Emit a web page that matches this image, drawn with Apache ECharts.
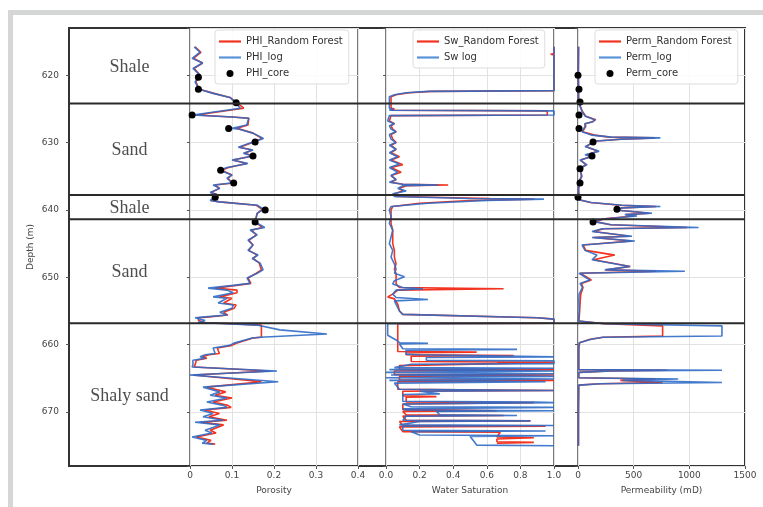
<!DOCTYPE html>
<html>
<head>
  <meta charset="utf-8">
  <script src="https://cdn.jsdelivr.net/npm/echarts@6/dist/echarts.min.js"></script>
</head>
<body style="margin:0;background:#fff">
  <div id="container" style="width:763px;height:507px"></div>
  <script>
    // depth (m) of lithology tops / label centres
    const boundaries = [624.2, 637.8, 641.4, 656.8];
    const lithoNames = ['Shale', 'Sand', 'Shale', 'Sand', 'Shaly sand'];
    const lithoDepths = [618.8, 631.1, 639.7, 649.2, 667.6];

    // [depth, porosity]
    const phiLog = [[615.8,.01],[616.6,.024],[617.5,.005],[618.2,.03],[619.0,.007],[620.0,.024],[621.0,.012],[622.1,.022],[622.7,.055],[623.3,.095],[624.0,.107],[624.9,.12],[625.9,.007],[626.2,.10],[626.4,.14],[627.4,.135],[627.9,.10],[628.0,.115],[628.6,.15],[629.4,.175],[629.9,.15],[630.7,.115],[631.1,.15],[631.6,.127],[632.0,.15],[632.6,.10],[633.1,.138],[633.7,.088],[634.1,.071],[634.8,.10],[635.3,.088],[636.0,.10],[636.3,.055],[636.8,.071],[637.4,.048],[637.7,.064],[638.6,.048],[638.8,.071],[639.3,.16],[639.9,.175],[640.5,.16],[641.8,.155],[642.6,.178],[643.0,.143],[643.7,.16],[644.5,.138],[645.2,.15],[646.0,.138],[646.7,.162],[647.2,.148],[647.9,.167],[648.9,.174],[649.4,.16],[650.1,.136],[650.9,.143],[651.2,.103],[651.6,.043],[651.9,.088],[652.3,.103],[652.9,.055],[653.1,.088],[653.8,.067],[654.1,.103],[654.6,.10],[655.2,.071],[655.6,.088],[655.9,.03],[656.0,.012],[656.4,.036],[656.7,.019],[657.1,.162],[657.8,.214],[658.4,.326],[658.9,.167],[659.0,.148],[659.8,.103],[660.1,.095],[660.5,.055],[661.3,.06],[661.5,.036],[661.8,.024],[662.0,.036],[662.3,.007],[663.0,.007],[663.3,.005],[663.9,.207],[664.5,.0],[665.5,.21],[666.3,.031],[667.0,.071],[667.5,.048],[667.9,.088],[668.5,.04],[669.0,.079],[669.3,.088],[669.7,.024],[670.2,.055],[670.7,.031],[671.2,.079],[671.5,.012],[671.9,.071],[672.7,.036],[673.1,.052],[673.7,.005],[674.2,.04],[674.6,.029],[674.75,.055]];
    const phiRF = [[615.8,.012],[616.6,.026],[617.5,.008],[618.2,.03],[619.0,.01],[620.0,.024],[621.0,.014],[622.1,.022],[622.7,.057],[623.3,.095],[624.0,.11],[624.9,.128],[625.9,.015],[626.2,.10],[626.4,.14],[627.4,.138],[627.9,.11],[628.0,.118],[628.6,.15],[629.4,.172],[629.9,.152],[630.7,.118],[631.1,.148],[631.6,.13],[632.0,.15],[632.6,.102],[633.1,.135],[633.7,.092],[634.1,.075],[634.8,.10],[635.3,.09],[636.0,.102],[636.3,.06],[636.8,.07],[637.4,.05],[637.7,.064],[638.6,.05],[638.8,.07],[639.3,.158],[639.9,.172],[640.5,.16],[641.8,.155],[642.6,.172],[643.0,.146],[643.7,.158],[644.5,.14],[645.2,.15],[646.0,.14],[646.7,.16],[647.2,.15],[647.9,.165],[648.9,.17],[649.4,.158],[650.1,.138],[650.9,.145],[651.2,.11],[651.6,.06],[651.9,.112],[652.3,.112],[652.9,.07],[653.1,.1],[653.8,.08],[654.1,.11],[654.6,.105],[655.2,.08],[655.6,.09],[655.9,.04],[656.0,.02],[656.4,.02],[656.7,.035],[657.1,.17],[658.9,.17],[659.0,.15],[659.8,.11],[660.1,.1],[660.5,.065],[661.3,.07],[661.5,.045],[661.8,.03],[662.0,.04],[662.3,.015],[663.0,.012],[663.3,.01],[663.9,.19],[664.5,.008],[665.5,.17],[666.3,.04],[667.0,.085],[667.5,.06],[667.9,.1],[668.5,.055],[669.0,.09],[669.3,.098],[669.7,.035],[670.2,.07],[670.7,.045],[671.2,.088],[671.5,.025],[671.9,.08],[672.7,.048],[673.1,.062],[673.7,.015],[674.2,.05],[674.6,.04],[674.75,.06]];
    const phiCore = [[620.3,.02],[622.1,.02],[624.1,.11],[625.9,.005],[627.9,.092],[629.9,.155],[632.0,.15],[634.1,.073],[636.0,.104],[638.1,.06],[640.0,.179],[641.8,.155]];

    // [depth, water saturation]
    const swLog = [[615.8,1.0],[622.3,1.0],[622.4,0.25],[622.6,0.12],[622.9,0.05],[623.2,0.02],[624.9,0.02],[625.0,0.04],[625.2,0.02],[625.3,1.0],[625.9,1.0],[626.0,0.02],[626.8,0.01],[627.2,0.05],[627.5,0.02],[628.0,0.03],[628.4,0.06],[628.8,0.02],[629.5,0.03],[630.0,0.06],[630.4,0.02],[631.0,0.06],[631.5,0.02],[632.1,0.07],[632.6,0.02],[633.2,0.08],[633.7,0.02],[634.4,0.07],[634.9,0.03],[635.5,0.06],[635.9,0.02],[636.2,0.1],[636.3,0.31],[636.4,0.1],[636.8,0.07],[637.2,0.12],[637.6,0.04],[638.0,0.05],[638.3,0.5],[638.4,0.94],[638.6,0.6],[639.0,0.25],[639.5,0.03],[640.0,0.02],[641.0,0.03],[642.0,0.02],[643.0,0.04],[644.0,0.03],[645.0,0.02],[646.0,0.04],[647.0,0.03],[648.0,0.05],[648.8,0.06],[649.4,0.05],[649.9,0.11],[650.5,0.05],[651.0,0.04],[651.5,0.1],[651.7,0.22],[651.9,0.06],[652.5,0.04],[653.0,0.06],[653.3,0.25],[653.5,0.05],[654.0,0.06],[655.0,0.08],[655.5,0.1],[656.0,0.9],[656.2,1.0],[656.8,1.0],
      [656.9,0.01],[658.6,0.01],[659.3,0.06],[659.7,0.08],[659.8,0.25],[659.9,0.08],[660.6,0.1],[660.7,0.78],[660.8,0.12],[661.4,0.12],[661.5,0.2],[661.8,1.0],[661.9,0.24],[662.3,0.24],[662.4,1.0],[662.8,1.0],[662.9,0.15],[663.4,0.05],[663.5,1.0],[663.7,0.02],[663.9,1.0],[664.1,0.0],[664.3,1.0],[664.5,0.03],[664.7,1.0],[664.9,0.0],[665.1,1.0],[665.3,0.02],[665.5,0.95],[665.7,0.05],[665.9,0.05],[666.6,0.08],[666.8,1.0],[666.9,0.2],[667.3,0.32],[667.4,0.1],[668.4,0.1],[668.5,0.88],[668.6,1.0],[668.8,0.1],[669.2,0.15],[669.3,1.0],[669.5,0.1],[669.7,0.12],[669.8,1.0],[669.9,0.3],[670.4,0.32],[670.5,0.78],[670.6,0.12],[671.2,0.1],[671.3,0.86],[671.4,0.2],[671.9,0.08],[672.0,1.0],[672.1,0.1],[672.7,0.1],[672.8,0.95],[672.9,0.15],[673.4,0.2],[673.5,1.0],[673.6,0.5],[674.9,0.54],[675.0,1.0]];
    const swRF = [[615.8,1.0],[616.8,1.0],[616.9,0.98],[617.0,1.0],[622.3,1.0],[622.4,0.27],[622.6,0.14],[622.9,0.06],[623.2,0.03],[624.9,0.03],[625.0,0.05],[625.2,0.03],[625.3,0.96],[625.9,0.96],[626.0,0.03],[626.8,0.02],[627.2,0.05],[627.5,0.03],[628.0,0.04],[628.4,0.06],[628.8,0.03],[629.5,0.04],[630.0,0.06],[630.4,0.03],[631.0,0.06],[631.5,0.03],[632.1,0.08],[632.6,0.03],[633.3,0.1],[633.7,0.03],[634.4,0.09],[634.9,0.03],[635.5,0.06],[635.9,0.03],[636.2,0.1],[636.3,0.37],[636.4,0.12],[636.8,0.08],[637.2,0.1],[637.6,0.05],[638.0,0.06],[638.3,0.62],[638.4,0.88],[638.6,0.5],[639.0,0.2],[639.5,0.04],[640.0,0.03],[641.0,0.03],[642.0,0.03],[643.0,0.04],[644.0,0.04],[645.0,0.04],[646.0,0.05],[647.0,0.05],[648.0,0.06],[648.8,0.05],[649.4,0.06],[650.0,0.06],[650.5,0.06],[651.0,0.06],[651.5,0.08],[651.7,0.7],[651.9,0.07],[652.5,0.04],[652.9,0.01],[653.2,0.05],[653.4,0.06],[654.0,0.07],[655.0,0.08],[655.5,0.1],[656.0,0.9],[656.2,1.0],[656.8,1.0],
      [656.9,0.07],[661.0,0.07],[661.1,0.54],[661.2,0.12],[661.5,0.12],[661.6,0.76],[661.7,0.15],[662.5,0.15],[662.6,1.0],[662.8,0.66],[663.0,0.66],[663.1,0.08],[663.6,0.08],[663.7,1.0],[663.9,0.05],[664.4,0.05],[664.5,1.0],[664.7,0.08],[665.2,0.08],[665.3,1.0],[665.5,0.07],[666.6,0.07],[666.8,1.0],[666.9,0.1],[667.6,0.1],[667.7,0.3],[667.8,0.12],[668.5,0.12],[668.6,0.88],[668.8,0.1],[669.6,0.1],[669.8,0.66],[669.9,0.1],[670.4,0.12],[670.5,0.7],[670.6,0.1],[671.2,0.12],[671.3,0.86],[671.4,0.08],[672.0,0.1],[672.1,0.95],[672.2,0.08],[672.9,0.1],[673.0,0.68],[673.7,0.66],[673.8,0.88],[674.0,0.66],[674.4,0.66],[674.5,0.88],[674.6,0.66]];

    // [depth, permeability mD]
    const permLog = [[615.8,5],[620,3],[622,5],[624.0,5],[625.4,36],[626.1,66],[626.6,150],[626.9,135],[627.2,60],[627.6,63],[628.4,36],[628.9,126],[629.2,300],[629.3,740],[629.5,395],[629.8,130],[630.1,126],[630.6,63],[631.3,190],[631.8,63],[632.1,120],[632.6,18],[633.3,81],[633.8,15],[635.0,36],[635.8,9],[637,5],[638.5,9],[638.9,120],[639.3,400],[639.5,740],[639.7,395],[640.0,335],[640.5,665],[640.7,420],[640.9,530],[641.3,250],[641.7,126],[642.2,300],[642.6,1083],[642.8,215],[643.2,126],[643.9,485],[644.1,126],[644.6,510],[645.2,36],[646.0,63],[646.7,170],[647.4,126],[648.4,465],[648.9,240],[649.1,960],[649.4,9],[650.4,108],[650.9,18],[651.5,40],[652.5,10],[653.5,8],[655.0,10],[656.5,5],[656.9,240],[657.2,1293],[658.7,1293],[658.9,220],[659.2,120],[659.7,10],[660.5,5],[663.7,5],[663.8,1293],[663.9,300],[664.1,5],[664.9,5],[665.1,900],[665.3,400],[665.6,1293],[665.8,200],[666.0,5],[670,3],[675,3]];
    const permRF = [[615.8,5],[620,3],[622,5],[624.0,5],[625.4,40],[626.1,70],[626.6,160],[626.9,130],[627.2,65],[627.6,70],[628.4,40],[628.9,150],[629.2,280],[629.3,690],[629.5,380],[629.8,140],[630.1,120],[630.6,70],[631.3,180],[631.8,80],[632.1,110],[632.6,25],[633.3,70],[633.8,20],[635.0,30],[635.8,12],[637,5],[638.5,10],[638.9,110],[639.3,380],[639.5,700],[639.7,390],[640.0,340],[640.5,640],[640.7,430],[640.9,500],[641.3,240],[641.7,150],[642.2,290],[642.6,980],[642.8,230],[643.2,140],[643.9,460],[644.1,140],[644.6,480],[645.2,45],[646.0,70],[646.7,330],[647.4,140],[648.4,470],[648.9,250],[649.1,700],[649.4,20],[650.4,120],[650.9,30],[651.5,45],[652.5,25],[653.5,20],[655.0,15],[656.5,8],[656.9,240],[657.2,760],[658.7,760],[658.9,230],[659.2,110],[659.7,15],[660.5,8],[663.7,8],[663.8,800],[663.9,280],[664.1,8],[664.9,8],[665.1,700],[665.3,380],[665.6,760],[665.8,200],[666.0,8],[670,5],[675,5]];
    const permCore = [[620.0,0],[622.1,9],[624.0,18],[625.9,9],[627.9,9],[629.9,135],[632.0,126],[633.9,18],[636.0,18],[638.1,0],[639.9,350],[641.8,135]];

    const RED = '#f2331f';
    const BLUE = '#2f6cc6';
    const DEPTH_MIN = 613, DEPTH_MAX = 678;
    const tickFont = { fontFamily: 'DejaVu Sans', fontSize: 9, color: '#444' };
    const LINE_ICON = 'path://M0,0h22v2.2h-22z';

    function xy(arr) { return arr.map(function (p) { return [p[1], p[0]]; }); }

    const gridTop = 28, gridH = 438;
    const grids = [
      { left: 69, width: 121, top: gridTop, height: gridH },
      { left: 190, width: 168, top: gridTop, height: gridH, show: true, borderColor: '#333', borderWidth: 1.3 },
      { left: 386, width: 168, top: gridTop, height: gridH, show: true, borderColor: '#333', borderWidth: 1.3 },
      { left: 578, width: 167, top: gridTop, height: gridH, show: true, borderColor: '#333', borderWidth: 1.3 },
      { left: 69, width: 676, top: gridTop, height: gridH, show: true, borderColor: '#333', borderWidth: 2, backgroundColor: 'transparent' }
    ];

    function trackX(idx, min, max, interval, name, fmt) {
      return {
        type: 'value', gridIndex: idx, min: min, max: max, interval: interval,
        name: name, nameLocation: 'middle', nameGap: 20,
        nameTextStyle: { fontFamily: 'DejaVu Sans', fontSize: 9, color: '#444' },
        axisLine: { show: false },
        axisTick: { show: true, length: 3, lineStyle: { color: '#555' } },
        axisLabel: Object.assign({ margin: 5, formatter: fmt }, tickFont),
        splitLine: { show: true, lineStyle: { color: '#e2e2e2', width: 1 } }
      };
    }
    function depthY(idx, showLabel) {
      return {
        type: 'value', gridIndex: idx, inverse: true, min: DEPTH_MIN, max: DEPTH_MAX, splitNumber: 5,
        axisLine: { show: false },
        axisTick: { show: idx < 4, length: 3, lineStyle: { color: '#555' } },
        axisLabel: Object.assign({ show: showLabel, margin: 10, showMinLabel: false, showMaxLabel: false }, tickFont),
        splitLine: { show: idx > 0 && idx < 4, lineStyle: { color: '#e2e2e2', width: 1 } },
        name: showLabel ? 'Depth (m)' : '', nameLocation: 'middle', nameGap: 34,
        nameTextStyle: { fontFamily: 'DejaVu Sans', fontSize: 9, color: '#444' }
      };
    }

    const xAxes = [
      { type: 'value', gridIndex: 0, min: 0, max: 1, show: false },
      trackX(1, 0, 0.4, 0.1, 'Porosity', function (v) { return v === 0 ? '0' : v.toFixed(1); }),
      trackX(2, 0, 1, 0.2, 'Water Saturation', function (v) { return v.toFixed(1); }),
      trackX(3, 0, 1500, 500, 'Permeability (mD)', function (v) { return String(v); }),
      { type: 'value', gridIndex: 4, min: 0, max: 1, show: false }
    ];
    const yAxes = [depthY(0, true), depthY(1, false), depthY(2, false), depthY(3, false),
      { type: 'value', gridIndex: 4, inverse: true, min: DEPTH_MIN, max: DEPTH_MAX, show: false }];

    function curve(name, idx, arr, color, z) {
      return {
        name: name, type: 'line', xAxisIndex: idx, yAxisIndex: idx, data: xy(arr),
        symbol: 'none', clip: true, z: z,
        lineStyle: { color: color, width: 1.6, opacity: color === BLUE ? 0.9 : 1 },
        itemStyle: { color: color }
      };
    }
    function cores(name, idx, arr) {
      return {
        name: name, type: 'scatter', xAxisIndex: idx, yAxisIndex: idx, data: xy(arr),
        symbolSize: 7, z: 5, itemStyle: { color: '#000', opacity: 1 }
      };
    }

    const series = [
      {
        type: 'scatter', xAxisIndex: 0, yAxisIndex: 0, silent: true,
        data: lithoNames.map(function (n, i) { return { value: [0.5, lithoDepths[i]], name: n }; }),
        symbolSize: 1, itemStyle: { color: 'rgba(0,0,0,0)' },
        label: { show: true, position: 'inside', formatter: '{b}', fontFamily: 'Liberation Serif', fontSize: 18, color: '#222' }
      },
      curve('PHI_Random Forest', 1, phiRF, RED, 2),
      curve('PHI_log', 1, phiLog, BLUE, 3),
      cores('PHI_core', 1, phiCore),
      curve('Sw_Random Forest', 2, swRF, RED, 2),
      curve('Sw log', 2, swLog, BLUE, 3),
      curve('Perm_Random Forest', 3, permRF, RED, 2),
      curve('Perm_log', 3, permLog, BLUE, 3),
      cores('Perm_core', 3, permCore)
    ];
    boundaries.forEach(function (d) {
      series.push({
        type: 'line', xAxisIndex: 4, yAxisIndex: 4, silent: true, z: 10,
        data: [[0, d], [1, d]], symbol: 'none',
        lineStyle: { color: '#2a2a2a', width: 2 }
      });
    });

    function legendAt(left, names) {
      return {
        data: names.map(function (n) {
          return /core/.test(n)
            ? { name: n, icon: 'circle', itemStyle: { color: '#000' } }
            : { name: n, icon: LINE_ICON, itemStyle: { color: /Random/.test(n) ? RED : '#5a93d8' } };
        }),
        left: left, top: 30, orient: 'vertical',
        itemWidth: 22, itemHeight: 7, itemGap: 5,
        padding: [6, 6, 5, 4],
        borderColor: '#dddddd', borderWidth: 1, borderRadius: 3,
        backgroundColor: 'rgba(255,255,255,0.85)',
        selectedMode: false,
        textStyle: { fontFamily: 'DejaVu Sans', fontSize: 10, color: '#333', lineHeight: 11 }
      };
    }

    const option = {
      animation: false,
      backgroundColor: '#fff',
      grid: grids,
      xAxis: xAxes,
      yAxis: yAxes,
      legend: [
        legendAt(215, ['PHI_Random Forest', 'PHI_log', 'PHI_core']),
        legendAt(413, ['Sw_Random Forest', 'Sw log']),
        legendAt(595, ['Perm_Random Forest', 'Perm_log', 'Perm_core'])
      ],
      graphic: [
        { type: 'rect', shape: { x: 8, y: 10, width: 755, height: 5 }, style: { fill: '#d5d7d7' }, silent: true },
        { type: 'rect', shape: { x: 8, y: 10, width: 5, height: 497 }, style: { fill: '#d5d7d7' }, silent: true }
      ],
      series: series
    };

    const chart = echarts.init(document.getElementById('container'), null, { renderer: 'canvas' });
    chart.setOption(option);
  </script>
</body>
</html>
